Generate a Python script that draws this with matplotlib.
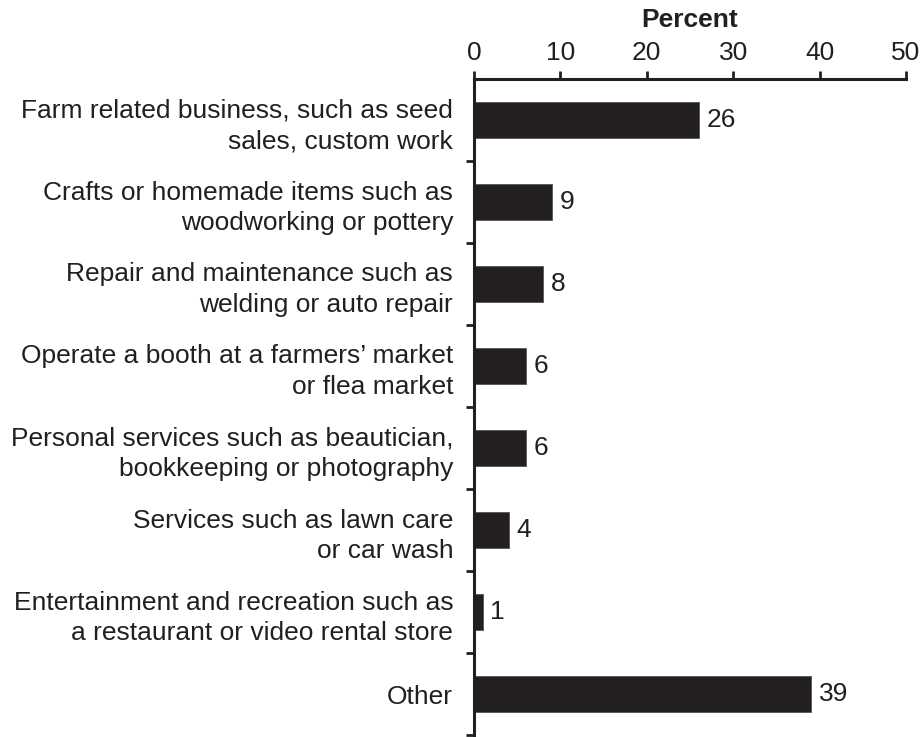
import numpy as np
import matplotlib.pyplot as plt
from matplotlib.ticker import FixedLocator

# Data
categories = [
    "Farm related business, such as seed\nsales, custom work",
    "Crafts or homemade items such as\nwoodworking or pottery",
    "Repair and maintenance such as\nwelding or auto repair",
    "Operate a booth at a farmers\u2019 market\nor flea market",
    "Personal services such as beautician,\nbookkeeping or photography",
    "Services such as lawn care\nor car wash",
    "Entertainment and recreation such as\na restaurant or video rental store",
    "Other",
]
percent = [26, 9, 8, 6, 6, 4, 1, 39]
x_ticks = [0, 10, 20, 30, 40, 50]

plt.rcParams['font.family'] = ['Liberation Sans', 'DejaVu Sans']
dark = "#231f20"
fs = 19

fig = plt.figure(figsize=(9.23, 7.37), dpi=100)
ax = fig.add_axes([474 / 923, 1 - 735 / 737, (906 - 474) / 923, (735 - 79) / 737])

y = np.arange(len(categories))
ax.barh(y, percent, height=0.43, color=dark, edgecolor="#555555", linewidth=0.6)

for yi, v in zip(y, percent):
    ax.text(v + 0.9, yi, str(v), va="center", ha="left", fontsize=fs, color=dark)

ax.set_xlim(0, 50)
ax.set_ylim(len(categories) - 0.5, -0.5)

# x axis on top
ax.xaxis.tick_top()
ax.xaxis.set_label_position("top")
ax.set_xticks(x_ticks)
ax.set_xlabel("Percent", fontsize=fs, fontweight="bold", color=dark, labelpad=10)
ax.tick_params(axis="x", which="major", direction="out", length=6, width=2,
               pad=4, labelsize=fs, colors=dark)

# y axis: labels at centres, tick marks between categories
ax.set_yticks(y)
ax.set_yticklabels(categories, fontsize=fs, color=dark, linespacing=1.35)
ax.tick_params(axis="y", which="major", length=0, pad=15)
ax.yaxis.set_minor_locator(FixedLocator(np.arange(0.5, len(categories), 1.0)))
ax.tick_params(axis="y", which="minor", direction="out", length=6, width=2, color=dark)

for side in ["right", "bottom"]:
    ax.spines[side].set_visible(False)
for side in ["top", "left"]:
    ax.spines[side].set_linewidth(2.2)
    ax.spines[side].set_color(dark)

fig.savefig("out.png", dpi=100)
